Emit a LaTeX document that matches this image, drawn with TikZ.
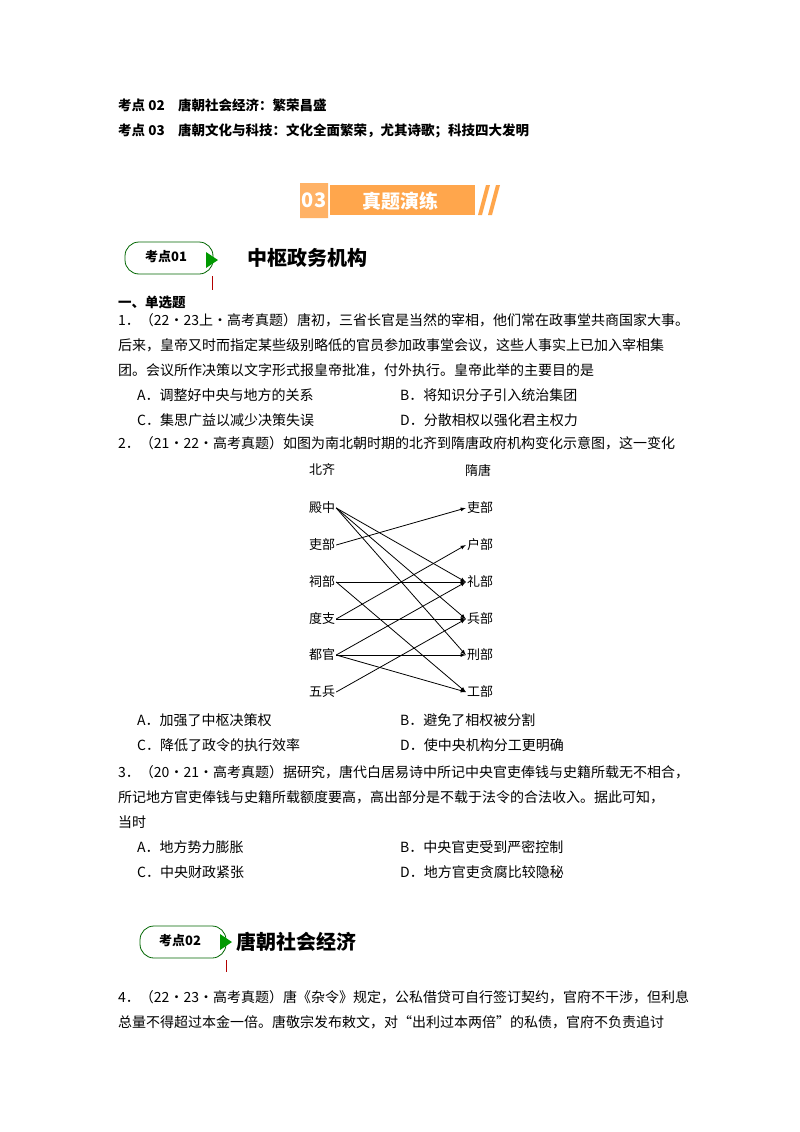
\documentclass[tikz,border=0pt]{standalone}
\usepackage{fontspec}
\setmainfont{Noto Sans CJK SC}
\begin{document}
\begin{tikzpicture}[x=1pt,y=-1pt,
 tx/.style={anchor=west,inner sep=0pt,font=\fontsize{14}{16}\selectfont},
 bd/.style={tx,font=\fontsize{13.5}{16}\bfseries\selectfont},
 lab/.style={inner sep=1pt,font=\fontsize{13}{14}\selectfont},
 ar/.style={-latex,line width=0.8pt}]
\useasboundingbox (0,0) rectangle (800,1132);
\fill[white] (0,0) rectangle (800,1132);
\node[bd] (h2) at (118,105) {考点 02\quad 唐朝社会经济：繁荣昌盛};
\node[bd] (h3) at (118,131) {考点 03\quad 唐朝文化与科技：文化全面繁荣，尤其诗歌；科技四大发明};
% banner
\fill[orange!60!white] (300,183) rectangle (328,218) -- (314,212) -- (300,218);
\fill[orange!70!white] (330,185) rectangle (475,215);
\fill[orange!70!white] (478,215) -- (486,185) -- (490,185) -- (482,215) -- cycle;
\fill[orange!70!white] (488,215) -- (496,185) -- (500,185) -- (492,215) -- cycle;
\node[text=white,font=\fontsize{20}{20}\bfseries\selectfont] (b03) at (314,200) {03};
\node[text=white,font=\fontsize{19}{20}\bfseries\selectfont] (bt) at (400,201) {真题演练};
% badge 1
\draw[green!40!black,line width=0.8pt,rounded corners=14pt] (125,242) rectangle (213,274);
\fill[green!60!black] (206,252) -- (218,260) -- (206,268) -- cycle;
\draw[red!70!black] (212,276) -- (212,290);
\node[font=\fontsize{13}{14}\bfseries\selectfont] (k1) at (166,257) {考点01};
\node[tx,font=\fontsize{20}{22}\bfseries\selectfont] (t1) at (247,258) {中枢政务机构};
\node[bd] (sec) at (118,303) {一、单选题};
\node[tx] (q1a) at (118,320) {1．（22·23上·高考真题）唐初，三省长官是当然的宰相，他们常在政事堂共商国家大事。};
\node[tx] (q1b) at (118,345) {后来，皇帝又时而指定某些级别略低的官员参加政事堂会议，这些人事实上已加入宰相集};
\node[tx] (q1c) at (118,370) {团。会议所作决策以文字形式报皇帝批准，付外执行。皇帝此举的主要目的是};
\node[tx] (o1a) at (137,395) {A．调整好中央与地方的关系};
\node[tx] (o1b) at (400,395) {B．将知识分子引入统治集团};
\node[tx] (o1c) at (137,420) {C．集思广益以减少决策失误};
\node[tx] (o1d) at (400,420) {D．分散相权以强化君主权力};
\node[tx] (q2) at (118,443) {2．（21·22·高考真题）如图为南北朝时期的北齐到隋唐政府机构变化示意图，这一变化};
% diagram
\node[lab] (L0) at (322,470) {北齐};
\node[lab] (L1) at (322,508) {殿中};
\node[lab] (L2) at (322,545) {吏部};
\node[lab] (L3) at (322,582) {祠部};
\node[lab] (L4) at (322,619) {度支};
\node[lab] (L5) at (322,655) {都官};
\node[lab] (L6) at (322,692) {五兵};
\node[lab] (R0) at (478,470) {隋唐};
\node[lab] (R1) at (480,508) {吏部};
\node[lab] (R2) at (480,545) {户部};
\node[lab] (R3) at (480,582) {礼部};
\node[lab] (R4) at (480,619) {兵部};
\node[lab] (R5) at (480,655) {刑部};
\node[lab] (R6) at (480,692) {工部};
\draw[ar] (L1.east) -- (R3.west);
\draw[ar] (L1.east) -- (R4.west);
\draw[ar] (L1.east) -- (R5.west);
\draw[ar] (L2.east) -- (R1.west);
\draw[ar] (L3.east) -- (R3.west);
\draw[ar] (L3.east) -- (R6.west);
\draw[ar] (L4.east) -- (R2.west);
\draw[ar] (L4.east) -- (R4.west);
\draw[ar] (L5.east) -- (R3.west);
\draw[ar] (L5.east) -- (R5.west);
\draw[ar] (L5.east) -- (R6.west);
\draw[ar] (L6.east) -- (R4.west);
\node[tx] (o2a) at (137,720) {A．加强了中枢决策权};
\node[tx] (o2b) at (400,720) {B．避免了相权被分割};
\node[tx] (o2c) at (137,745) {C．降低了政令的执行效率};
\node[tx] (o2d) at (400,745) {D．使中央机构分工更明确};
\node[tx] (q3a) at (118,772) {3．（20·21·高考真题）据研究，唐代白居易诗中所记中央官吏俸钱与史籍所载无不相合，};
\node[tx] (q3b) at (118,797) {所记地方官吏俸钱与史籍所载额度要高，高出部分是不载于法令的合法收入。据此可知，};
\node[tx] (q3c) at (118,822) {当时};
\node[tx] (o3a) at (137,847) {A．地方势力膨胀};
\node[tx] (o3b) at (400,847) {B．中央官吏受到严密控制};
\node[tx] (o3c) at (137,872) {C．中央财政紧张};
\node[tx] (o3d) at (400,872) {D．地方官吏贪腐比较隐秘};
% badge 2
\draw[green!40!black,line width=0.8pt,rounded corners=14pt] (140,926) rectangle (226,958);
\fill[green!60!black] (220,934) -- (232,942) -- (220,950) -- cycle;
\draw[red!70!black] (226,960) -- (226,972);
\node[font=\fontsize{13}{14}\bfseries\selectfont] (k2) at (180,941) {考点02};
\node[tx,font=\fontsize{20}{22}\bfseries\selectfont] (t2) at (236,942) {唐朝社会经济};
\node[tx] (q4a) at (118,997) {4．（22·23·高考真题）唐《杂令》规定，公私借贷可自行签订契约，官府不干涉，但利息};
\node[tx] (q4b) at (118,1022) {总量不得超过本金一倍。唐敬宗发布敕文，对“出利过本两倍”的私债，官府不负责追讨};
\end{tikzpicture}
\end{document}
